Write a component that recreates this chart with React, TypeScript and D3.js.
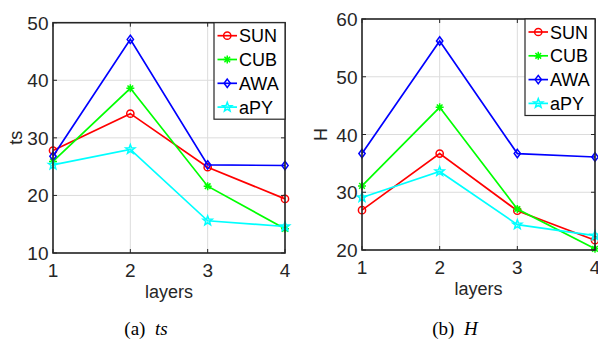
import * as d3 from 'd3';

// x categories
const layers = [1, 2, 3, 4];
const seriesNames = ['SUN', 'CUB', 'AWA', 'aPY'];
const seriesColors = ['#ff0000', '#00ff00', '#0000ff', '#00ffff'];
const seriesMarkers = ['circle', 'asterisk', 'diamond', 'star'];

// (a) ts
const tsSUN = [27.8, 34.2, 24.9, 19.4];
const tsCUB = [25.9, 38.6, 21.6, 14.2];
const tsAWA = [26.8, 47.1, 25.3, 25.2];
const tsAPY = [25.3, 28.0, 15.6, 14.6];
const tsTicks = [10, 20, 30, 40, 50];

// (b) H
const hSUN = [26.9, 36.7, 26.8, 21.7];
const hCUB = [31.1, 44.7, 27.1, 20.2];
const hAWA = [36.7, 56.2, 36.7, 36.1];
const hAPY = [29.1, 33.6, 24.4, 22.5];
const hTicks = [20, 30, 40, 50, 60];

const FONT = 'Liberation Sans, Arial, sans-serif';
const AX = '#262626';

type Panel = {
  values: number[][];
  ticks: number[];
  ylabel: string;
  tag: string;
  caption: string;
  captionX: number;
  x0: number; x1: number; y0: number; y1: number;
  ylabelX: number;
  legendX: number; legendTop: number;
};

const panels: Panel[] = [
  {
    values: [tsSUN, tsCUB, tsAWA, tsAPY], ticks: tsTicks, ylabel: 'ts', tag: '(a)', caption: 'ts', captionX: 146,
    x0: 53, x1: 285, y0: 253, y1: 22.7, ylabelX: 22, legendX: 214, legendTop: 22.7,
  },
  {
    values: [hSUN, hCUB, hAWA, hAPY], ticks: hTicks, ylabel: 'H', tag: '(b)', caption: 'H', captionX: 455,
    x0: 362, x1: 595, y0: 250, y1: 19, ylabelX: 327, legendX: 525, legendTop: 19,
  },
];

function Marker({ kind, x, y, color }: { kind: string; x: number; y: number; color: string }) {
  if (kind === 'circle') {
    return <circle cx={x} cy={y} r={3.6} fill="none" stroke={color} strokeWidth={1.5} />;
  }
  if (kind === 'diamond') {
    const s = 4.2;
    return (
      <path d={`M${x},${y - s}L${x + s * 0.75},${y}L${x},${y + s}L${x - s * 0.75},${y}Z`}
        fill="none" stroke={color} strokeWidth={1.5} />
    );
  }
  if (kind === 'asterisk') {
    const s = 4;
    const d = [0, 45, 90, 135].map((a) => {
      const r = (a * Math.PI) / 180;
      return `M${x - s * Math.cos(r)},${y - s * Math.sin(r)}L${x + s * Math.cos(r)},${y + s * Math.sin(r)}`;
    }).join('');
    return <path d={d} stroke={color} strokeWidth={1.5} />;
  }
  // pentagram
  const pts: string[] = [];
  for (let i = 0; i < 10; i++) {
    const r = i % 2 === 0 ? 4.8 : 2;
    const a = -Math.PI / 2 + (i * Math.PI) / 5;
    pts.push(`${x + r * Math.cos(a)},${y + r * Math.sin(a)}`);
  }
  return <polygon points={pts.join(' ')} fill="none" stroke={color} strokeWidth={1.5} />;
}

function Chart({ p }: { p: Panel }) {
  const x = d3.scaleLinear().domain([1, 4]).range([p.x0, p.x1]);
  const y = d3.scaleLinear().domain([p.ticks[0], p.ticks[p.ticks.length - 1]]).range([p.y0, p.y1]);
  const line = d3.line<number>().x((_, i) => x(layers[i])).y((d) => y(d));
  const midX = (p.x0 + p.x1) / 2;
  const midY = (p.y0 + p.y1) / 2;
  const tk = 4;

  return (
    <g>
      {/* grid */}
      {layers.map((l) => (
        <line key={'gx' + l} x1={x(l)} x2={x(l)} y1={p.y0} y2={p.y1} stroke="#dcdcdc" strokeWidth={1} />
      ))}
      {p.ticks.map((t) => (
        <line key={'gy' + t} x1={p.x0} x2={p.x1} y1={y(t)} y2={y(t)} stroke="#dcdcdc" strokeWidth={1} />
      ))}

      {/* series */}
      {p.values.map((vals, si) => (
        <g key={seriesNames[si]}>
          <path d={line(vals) || ''} fill="none" stroke={seriesColors[si]} strokeWidth={1.7} />
          {vals.map((v, i) => (
            <Marker key={i} kind={seriesMarkers[si]} x={x(layers[i])} y={y(v)} color={seriesColors[si]} />
          ))}
        </g>
      ))}

      {/* box + ticks */}
      <rect x={p.x0} y={p.y1} width={p.x1 - p.x0} height={p.y0 - p.y1} fill="none" stroke={AX} strokeWidth={1.6} />
      {layers.map((l) => (
        <g key={'tx' + l}>
          <line x1={x(l)} x2={x(l)} y1={p.y0} y2={p.y0 - tk} stroke={AX} strokeWidth={1} />
          <line x1={x(l)} x2={x(l)} y1={p.y1} y2={p.y1 + tk} stroke={AX} strokeWidth={1} />
          <text x={x(l)} y={p.y0 + 24} textAnchor="middle" fontFamily={FONT} fontSize={19} fill={AX}>{l}</text>
        </g>
      ))}
      {p.ticks.map((t) => (
        <g key={'ty' + t}>
          <line x1={p.x0} x2={p.x0 + tk} y1={y(t)} y2={y(t)} stroke={AX} strokeWidth={1} />
          <line x1={p.x1} x2={p.x1 - tk} y1={y(t)} y2={y(t)} stroke={AX} strokeWidth={1} />
          <text x={p.x0 - 4.5} y={y(t) + 7} textAnchor="end" fontFamily={FONT} fontSize={19} fill={AX}>{t}</text>
        </g>
      ))}

      {/* labels */}
      <text x={midX} y={p.y0 + 45} textAnchor="middle" fontFamily={FONT} fontSize={18} fill={AX}>layers</text>
      <text transform={`translate(${p.ylabelX},${midY}) rotate(-90)`} textAnchor="middle"
        fontFamily={FONT} fontSize={18} fill={AX}>{p.ylabel}</text>

      {/* legend */}
      <rect x={p.legendX} y={p.legendTop} width={p.x1 - p.legendX} height={96.5} fill="#fff" stroke={AX} strokeWidth={1.2} />
      {seriesNames.map((n, si) => {
        const ly = p.legendTop + 13 + si * 23.8;
        const lx = p.legendX + 3.5;
        return (
          <g key={'lg' + n}>
            <line x1={lx} x2={lx + 19.5} y1={ly} y2={ly} stroke={seriesColors[si]} strokeWidth={1.7} />
            <Marker kind={seriesMarkers[si]} x={lx + 9.75} y={ly} color={seriesColors[si]} />
            <text x={lx + 21.5} y={ly + 6.5} fontFamily={FONT} fontSize={18} fill="#000">{n}</text>
          </g>
        );
      })}

      {/* caption */}
      <text x={p.captionX} y={335} textAnchor="middle" fontFamily="Liberation Serif, Times New Roman, serif" fontSize={19} fill="#000">
        {p.tag}
        <tspan>{'\u00a0\u00a0'}</tspan>
        <tspan fontStyle="italic">{p.caption}</tspan>
      </text>
    </g>
  );
}

export default function App() {
  return (
    <svg width={598} height={340} style={{ position: 'fixed', left: 0, top: 0, background: '#fff' }}>
      <rect width={598} height={340} fill="#fff" />
      {panels.map((p, i) => (
        <Chart key={i} p={p} />
      ))}
    </svg>
  );
}
